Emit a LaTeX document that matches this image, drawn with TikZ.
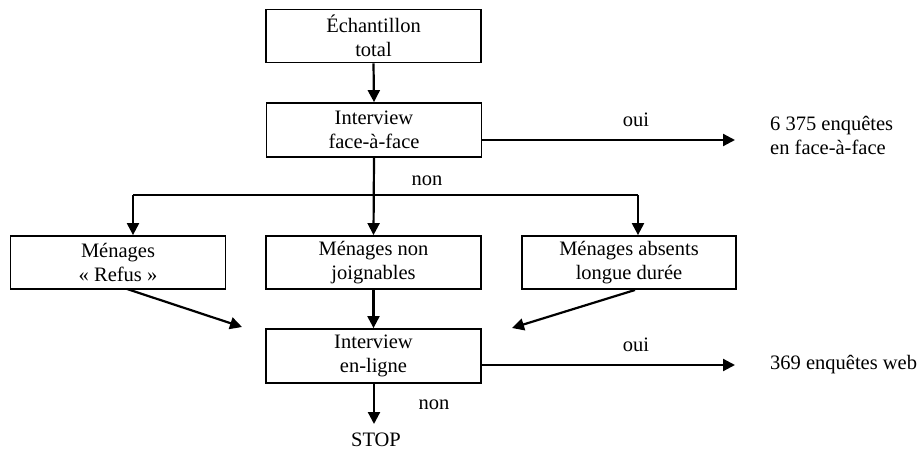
\documentclass[tikz,border=0pt]{standalone}
\usepackage{fontspec}
\setmainfont{Liberation Serif}
\usetikzlibrary{arrows.meta}
\tikzset{
  box/.style={draw, line width=1.8pt, minimum width=215pt, minimum height=53pt, align=center, inner sep=0pt, font=\fontsize{20.5}{24}\selectfont},
  lbl/.style={inner sep=0pt, font=\fontsize{20.5}{24}\selectfont},
  arr/.style={line width=2.2pt, -{Triangle[length=12pt,width=12pt]}},
  ln/.style={line width=2.2pt}
}
\begin{document}
\begin{tikzpicture}[x=1pt,y=-1pt]
\useasboundingbox (0,0) rectangle (921,452);
\node[box] (top) at (373.5,36) {Échantillon\\total};
\node[box, minimum height=54pt] (ff) at (374,130) {Interview\\face-à-face};
\node[box] (left) at (118,262.5) {Ménages\\« Refus »};
\node[box] (mid) at (373.5,262.5) {Ménages non\\joignables};
\node[box, minimum width=214pt] (right) at (629,262.5) {Ménages absents\\longue durée};
\node[box, minimum height=54pt] (web) at (373.5,356) {Interview\\en-ligne};
\node[lbl] (stop) at (376,440) {STOP};
\node[lbl] (oui1) at (636,120) {oui};
\node[lbl] (oui2) at (636,345) {oui};
\node[lbl] (non1) at (427,181) {non};
\node[lbl] (non2) at (434,405) {non};
\node[lbl, anchor=west, align=left] (res1) at (770,135) {6 375 enquêtes\\en face-à-face};
\node[lbl, anchor=west] (res2) at (770,365) {369 enquêtes web};

\coordinate (e1) at (735,140);
\coordinate (e2) at (735,365);
\coordinate (bl) at (133,195);
\coordinate (br) at (638,195);
\coordinate (al) at (242,327);
\coordinate (ar) at (512,328);
\coordinate (ls) at (127,289);
\coordinate (rs) at (635,290);
\coordinate (st) at (374,424);

\draw[arr] (top.south) -- (ff.north);
\draw[arr] (ff.east |- e1) -- (e1);
\draw[arr] (ff.south) -- (mid.north);
\draw[ln] (bl) -- (br);
\draw[arr] (bl) -- (bl |- left.north);
\draw[arr] (br) -- (br |- right.north);
\draw[arr] (ls) -- (al);
\draw[arr] (mid.south) -- (web.north);
\draw[arr] (rs) -- (ar);
\draw[arr] (web.east |- e2) -- (e2);
\draw[arr] (web.south -| st) -- (st);
\end{tikzpicture}
\end{document}
